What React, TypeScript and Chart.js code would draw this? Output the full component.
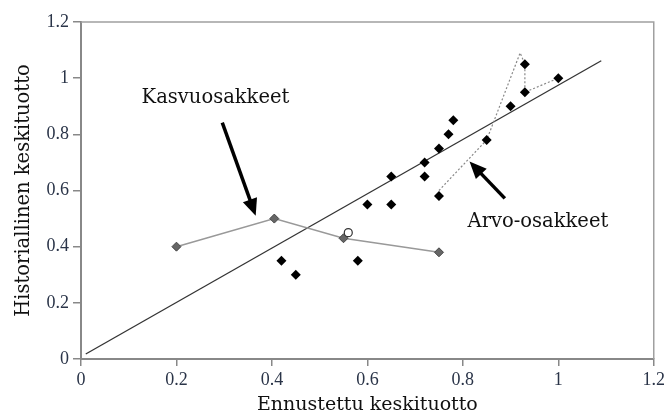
import React, { useEffect, useRef } from "react";
import { Chart, registerables } from "chart.js";

Chart.register(...registerables);

// Individual stocks (black diamonds)
const stockX = [0.42, 0.45, 0.58, 0.60, 0.65, 0.65, 0.72, 0.72, 0.75, 0.75, 0.77, 0.78, 0.85, 0.90, 0.93, 0.93, 1.00];
const stockY = [0.35, 0.30, 0.35, 0.55, 0.55, 0.65, 0.65, 0.70, 0.58, 0.75, 0.80, 0.85, 0.78, 0.90, 1.05, 0.95, 1.00];

// Growth stocks (grey line with grey diamonds)
const growthX = [0.20, 0.405, 0.55, 0.75];
const growthY = [0.40, 0.50, 0.43, 0.38];

// Value stocks (dotted line)
const valueX = [0.75, 0.85, 0.92, 0.93, 0.93, 1.00];
const valueY = [0.60, 0.78, 1.09, 1.05, 0.95, 1.00];

// Fitted line
const fitX = [0.01, 1.09];
const fitY = [0.018, 1.062];

// Market (open circle)
const marketX = [0.56];
const marketY = [0.45];

const xTicks = [0, 0.2, 0.4, 0.6, 0.8, 1, 1.2];
const yTicks = [0, 0.2, 0.4, 0.6, 0.8, 1, 1.2];

const labelGrowth = "Kasvuosakkeet";
const labelValue = "Arvo-osakkeet";
const xTitle = "Ennustettu keskituotto";
const yTitle = "Historiallinen keskituotto";

const pts = (xs: number[], ys: number[]) => xs.map((x, i) => ({ x, y: ys[i] }));

const annotationPlugin = {
  id: "annot",
  beforeDatasetsDraw(chart: any) {
    const { ctx, chartArea: a } = chart;
    ctx.save();
    ctx.strokeStyle = "#a0a0a0";
    ctx.lineWidth = 1.5;
    ctx.beginPath();
    ctx.moveTo(a.left, a.top);
    ctx.lineTo(a.right, a.top);
    ctx.lineTo(a.right, a.bottom);
    ctx.stroke();
    ctx.restore();
  },
  afterDatasetsDraw(chart: any) {
    const { ctx } = chart;
    const xs = chart.scales.x;
    const ys = chart.scales.y;
    const arrow = (x0: number, y0: number, x1: number, y1: number) => {
      const px0 = xs.getPixelForValue(x0), py0 = ys.getPixelForValue(y0);
      const px1 = xs.getPixelForValue(x1), py1 = ys.getPixelForValue(y1);
      const ang = Math.atan2(py1 - py0, px1 - px0);
      const hl = 17, hw = 7.5;
      const bx = px1 - hl * Math.cos(ang), by = py1 - hl * Math.sin(ang);
      ctx.save();
      ctx.strokeStyle = "#000";
      ctx.fillStyle = "#000";
      ctx.lineWidth = 3.5;
      ctx.beginPath();
      ctx.moveTo(px0, py0);
      ctx.lineTo(bx + 2 * Math.cos(ang), by + 2 * Math.sin(ang));
      ctx.stroke();
      ctx.beginPath();
      ctx.moveTo(px1, py1);
      ctx.lineTo(bx + hw * Math.sin(ang), by - hw * Math.cos(ang));
      ctx.lineTo(bx - hw * Math.sin(ang), by + hw * Math.cos(ang));
      ctx.closePath();
      ctx.fill();
      ctx.restore();
    };
    arrow(0.296, 0.842, 0.366, 0.51);
    arrow(0.888, 0.572, 0.814, 0.703);
    ctx.save();
    ctx.fillStyle = "#111";
    ctx.font = "19.5px 'DejaVu Serif'";
    ctx.textAlign = "left";
    ctx.textBaseline = "middle";
    ctx.fillText(labelGrowth, xs.getPixelForValue(0.127), ys.getPixelForValue(0.93));
    ctx.fillText(labelValue, xs.getPixelForValue(0.81), ys.getPixelForValue(0.488));
    ctx.restore();
  },
};

export default function App() {
  const ref = useRef<HTMLCanvasElement>(null);
  useEffect(() => {
    if (!ref.current) return;
    const tickFont = { family: "'Liberation Serif'", size: 18 };
    const titleFont = { family: "'DejaVu Serif'", size: 19 };
    const chart = new Chart(ref.current, {
      type: "scatter",
      data: {
        datasets: [
          {
            label: "stocks",
            data: pts(stockX, stockY),
            pointStyle: "rectRot",
            pointRadius: 5,
            backgroundColor: "#000",
            borderColor: "#000",
            borderWidth: 0,
            showLine: false,
            order: 0,
          },
          {
            label: "market",
            data: pts(marketX, marketY),
            pointStyle: "circle",
            pointRadius: 4,
            backgroundColor: "#fff",
            borderColor: "#333",
            borderWidth: 1.2,
            showLine: false,
            order: 1,
          },
          {
            label: "growth",
            data: pts(growthX, growthY),
            pointStyle: "rectRot",
            pointRadius: 4.5,
            pointBackgroundColor: "#666",
            pointBorderColor: "#444",
            pointBorderWidth: 1,
            borderColor: "#999",
            borderWidth: 1.5,
            showLine: true,
            order: 2,
          },
          {
            label: "value",
            data: pts(valueX, valueY),
            pointRadius: 0,
            borderColor: "#888",
            borderWidth: 1.2,
            borderDash: [2, 2],
            showLine: true,
            order: 3,
          },
          {
            label: "fit",
            data: pts(fitX, fitY),
            pointRadius: 0,
            borderColor: "#333",
            borderWidth: 1.3,
            showLine: true,
            order: 4,
          },
        ],
      },
      options: {
        animation: false,
        responsive: true,
        maintainAspectRatio: false,
        layout: { padding: { top: 22, right: 11, left: 0, bottom: 0 } },
        plugins: { legend: { display: false }, tooltip: { enabled: false } },
        scales: {
          x: {
            type: "linear",
            min: 0,
            max: 1.2,
            afterBuildTicks: (s: any) => {
              s.ticks = xTicks.map((v) => ({ value: v }));
            },
            afterFit: (s: any) => {
              s.height = 55;
            },
            ticks: {
              font: tickFont,
              color: "#2a3448",
              padding: 3,
              callback: (v: any) => String(Number(Number(v).toFixed(1))),
            },
            grid: { drawOnChartArea: false, drawTicks: true, tickLength: 7, color: "#888", lineWidth: 1.5 },
            border: { color: "#888", width: 2 },
            title: { display: true, text: xTitle, font: titleFont, color: "#111", padding: { top: 0, bottom: -2 } },
          },
          y: {
            type: "linear",
            min: 0,
            max: 1.2,
            afterBuildTicks: (s: any) => {
              s.ticks = yTicks.map((v) => ({ value: v }));
            },
            afterFit: (s: any) => {
              s.width = 81;
            },
            ticks: {
              font: tickFont,
              color: "#2a3448",
              padding: 4,
              callback: (v: any) => String(Number(Number(v).toFixed(1))),
            },
            grid: { drawOnChartArea: false, drawTicks: true, tickLength: 8, color: "#888", lineWidth: 1.5 },
            border: { color: "#888", width: 2 },
            title: { display: true, text: yTitle, font: { family: "'DejaVu Serif'", size: 19.5 }, color: "#111", padding: { top: 12, bottom: 0 } },
          },
        },
      },
      plugins: [annotationPlugin],
    } as any);
    return () => chart.destroy();
  }, []);
  return (
    <div style={{ position: "fixed", left: 0, top: 0, width: 668, height: 414, background: "#fff" }}>
      <canvas ref={ref} />
    </div>
  );
}
